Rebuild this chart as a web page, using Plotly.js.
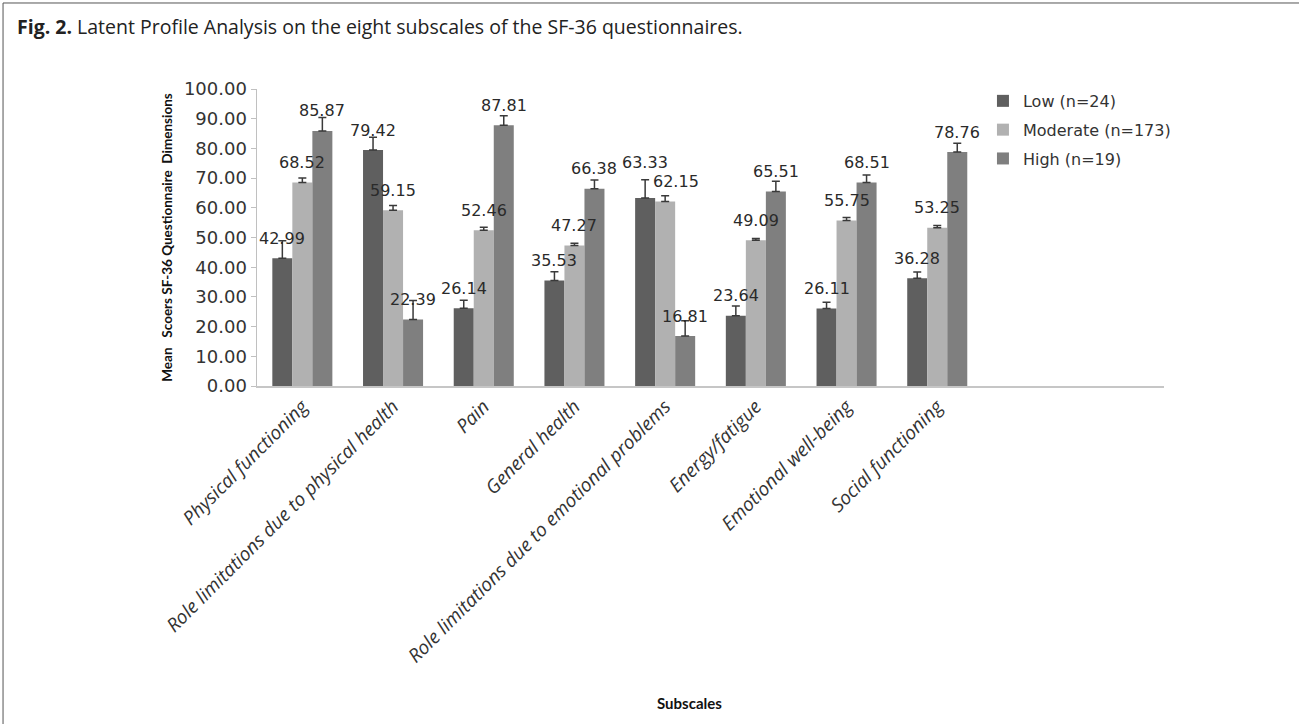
<!DOCTYPE html>
<html>
<head>
<meta charset="utf-8">
<script src="https://cdn.plot.ly/plotly-3.0.1.min.js"></script>
<style>
  html, body { margin: 0; padding: 0; background: #ffffff; }
  #chart { width: 1299px; height: 724px; }
</style>
</head>
<body>
<div id="chart"></div>
<script>
// SF-36 subscales (x categories)
const subscales = [
  'Physical functioning',
  'Role limitations due to physical health',
  'Pain',
  'General health',
  'Role limitations due to emotional problems',
  'Energy/fatigue',
  'Emotional well-being',
  'Social functioning'
];

// Profile names shown in the legend
const profileNames = ['Low (n=24)', 'Moderate (n=173)', 'High (n=19)'];

// Mean scores per profile
const lowMeans      = [42.99, 79.42, 26.14, 35.53, 63.33, 23.64, 26.11, 36.28];
const moderateMeans = [68.52, 59.15, 52.46, 47.27, 62.15, 49.09, 55.75, 53.25];
const highMeans     = [85.87, 22.39, 87.81, 66.38, 16.81, 65.51, 68.51, 78.76];

// Upper error bar lengths per profile
const lowErrors      = [5.9, 4.3, 2.7, 2.9, 6.1, 3.3, 2.1, 2.1];
const moderateErrors = [1.5, 1.6, 1.0, 0.8, 1.9, 0.6, 1.0, 0.8];
const highErrors     = [4.5, 6.4, 3.2, 3.0, 5.2, 3.4, 2.5, 3.0];

const barColors = ['#5f5f5f', '#b1b1b1', '#7f7f7f'];
const series = [lowMeans, moderateMeans, highMeans];
const errors = [lowErrors, moderateErrors, highErrors];

const BAR_GAP = 0.338;
const barWidthCat = (1 - BAR_GAP) / 3;

// pixel nudges for value labels that would otherwise collide ("profile:category")
const labelNudge = {
  '0:4': { dx: 0, dy: 35 },
  '1:4': { dx: 11, dy: 20 }
};

const traces = series.map((vals, i) => ({
  type: 'bar',
  name: profileNames[i],
  x: subscales,
  y: vals,
  legendgroup: 'g' + i,
  marker: { color: barColors[i], line: { width: 0 } },
  error_y: {
    type: 'data',
    array: errors[i],
    arrayminus: vals.map(() => 0),
    symmetric: false,
    color: '#3a3a3a',
    thickness: 1.5,
    width: 4
  },
  hoverinfo: 'x+y+name'
}));

// Value labels centred above each bar
const annotations = [];
series.forEach((vals, i) => {
  const offset = (i - 1) * barWidthCat;
  vals.forEach((v, j) => {
    const n = labelNudge[i + ':' + j] || { dx: 0, dy: 20 };
    annotations.push({
      xref: 'x', yref: 'y',
      x: j + offset, y: v,
      text: v.toFixed(2),
      showarrow: false,
      xanchor: 'center', yanchor: 'middle',
      xshift: n.dx,
      yshift: n.dy,
      font: { family: 'DejaVu Sans', size: 16, color: '#2a2a2a' }
    });
  });
});

// x-axis caption
annotations.push({
  xref: 'paper', yref: 'paper',
  x: 0.477, y: -1.067,
  text: 'Subscales',
  showarrow: false,
  xanchor: 'center', yanchor: 'middle',
  font: { family: 'Lato', size: 15, weight: 'bold', color: '#111111' }
});

// page frame (top and left rules)
const shapes = [
  { type: 'line', xref: 'paper', yref: 'paper', x0: -0.2800, x1: 1.149, y0: 1.2896, y1: 1.2896,
    line: { color: '#555555', width: 1 } },
  { type: 'line', xref: 'paper', yref: 'paper', x0: -0.2800, x1: -0.2800, y0: 1.2896, y1: -1.14,
    line: { color: '#555555', width: 1 } }
];

const layout = {
  width: 1299,
  height: 724,
  margin: { l: 257, r: 135, t: 89, b: 338 },
  paper_bgcolor: '#ffffff',
  plot_bgcolor: '#ffffff',
  barmode: 'group',
  bargap: BAR_GAP,
  bargroupgap: 0,
  showlegend: true,
  title: {
    text: '<b>Fig. 2.</b> Latent Profile Analysis on the eight subscales of the SF-36 questionnaires.',
    xref: 'container', yref: 'container',
    x: 17 / 1299, xanchor: 'left',
    y: 1 - 27 / 724, yanchor: 'middle',
    font: { family: 'Open Sans', size: 19.5, color: '#222222' }
  },
  xaxis: {
    type: 'category',
    range: [-0.5, 9.5],
    showline: true,
    linecolor: '#c6c6c6',
    linewidth: 2,
    ticks: '',
    showgrid: false,
    zeroline: false,
    tickangle: -45,
    automargin: false,
    tickfont: { family: 'Open Sans', size: 19, style: 'italic', color: '#333333' }
  },
  yaxis: {
    range: [0, 100],
    dtick: 10,
    tick0: 0,
    tickformat: '.2f',
    showline: true,
    linecolor: '#c0c0c0',
    linewidth: 1.5,
    ticks: 'outside',
    ticklen: 5,
    tickcolor: '#c0c0c0',
    showgrid: false,
    zeroline: false,
    automargin: false,
    tickfont: { family: 'DejaVu Sans', size: 18, color: '#333333' },
    title: {
      text: 'Mean\u00a0\u00a0\u00a0Scoers SF-36 Questionnaire\u00a0\u00a0Dimensions',
      standoff: 8,
      font: { family: 'Lato', size: 13.5, weight: 'bold', color: '#111111' }
    }
  },
  legend: {
    x: 0.8004, xanchor: 'left',
    y: 1.017, yanchor: 'top',
    traceorder: 'grouped',
    tracegroupgap: 5,
    bgcolor: 'rgba(0,0,0,0)',
    borderwidth: 0,
    font: { family: 'DejaVu Sans', size: 16, color: '#333333' }
  },
  annotations: annotations,
  shapes: shapes
};

Plotly.newPlot('chart', traces, layout, { displayModeBar: false, staticPlot: true });
</script>
</body>
</html>
